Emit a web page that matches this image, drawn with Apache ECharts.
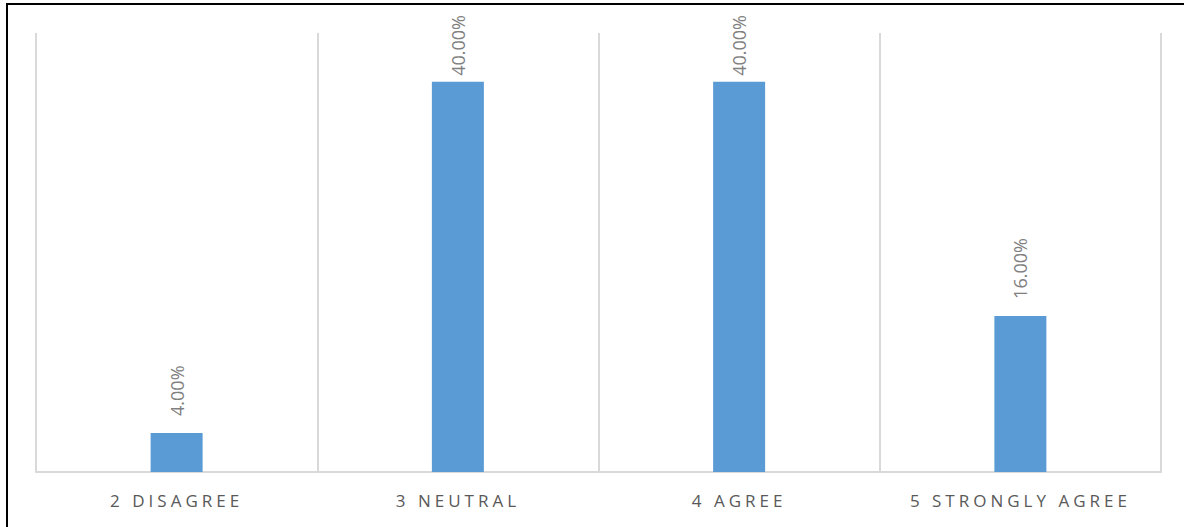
<!DOCTYPE html>
<html>
<head>
<meta charset="utf-8">
<script src="https://cdn.jsdelivr.net/npm/echarts@6/dist/echarts.min.js"></script>
<style>
  html, body { margin: 0; padding: 0; background: #ffffff; }
  #chart { width: 1184px; height: 527px; }
  /* wide tracking on the category names */
  #chart svg text[fill="#595959"] { letter-spacing: 4px; }
</style>
</head>
<body>
<div id="chart"></div>
<script>
// Survey responses (share of respondents, %)
const categories = ['2 DISAGREE', '3 NEUTRAL', '4 AGREE', '5 STRONGLY AGREE'];
const shares = [4, 40, 40, 16];

const chart = echarts.init(document.getElementById('chart'), null, { renderer: 'svg' });

// Labels on the tallest bars sit closer to the bar so they stay inside the frame
const barData = shares.map(v => ({
  value: v,
  label: { distance: v >= 40 ? 6 : 17 }
}));

chart.setOption({
  animation: false,
  backgroundColor: '#ffffff',
  grid: { left: 36, right: 23, top: 33, bottom: 55, containLabel: false },
  xAxis: {
    type: 'category',
    data: categories,
    boundaryGap: true,
    axisLine: { show: true, lineStyle: { color: '#d9d9d9', width: 2 } },
    axisTick: { show: false },
    splitLine: { show: true, lineStyle: { color: '#d9d9d9', width: 2 } },
    axisLabel: {
      color: '#595959',
      fontFamily: 'Open Sans',
      fontSize: 17,
      margin: 20
    }
  },
  yAxis: {
    type: 'value',
    min: 0,
    max: 45,
    show: false,
    splitLine: { show: false }
  },
  series: [{
    type: 'bar',
    data: barData,
    barWidth: 52,
    itemStyle: { color: '#5b9bd5' },
    label: {
      show: true,
      position: 'top',
      rotate: 90,
      align: 'left',
      verticalAlign: 'middle',
      color: '#808080',
      fontFamily: 'Open Sans',
      fontSize: 18,
      formatter: p => p.value.toFixed(2) + '%'
    }
  }],
  graphic: [
    { type: 'line', shape: { x1: 6, y1: 4, x2: 1184, y2: 4 }, style: { stroke: '#000000', lineWidth: 2 } },
    { type: 'line', shape: { x1: 7, y1: 3, x2: 7, y2: 527 }, style: { stroke: '#000000', lineWidth: 2 } }
  ]
});
</script>
</body>
</html>
